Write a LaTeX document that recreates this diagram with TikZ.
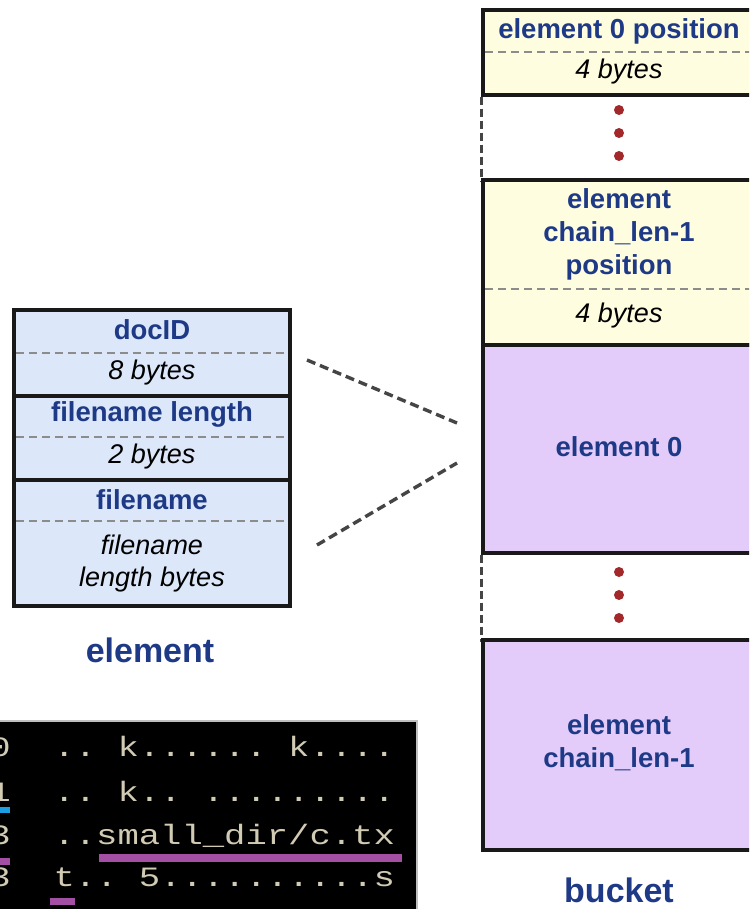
\documentclass[tikz,border=0pt]{standalone}
\usepackage{fontspec}
\setmainfont{Liberation Sans}
\newfontfamily\termfont{Liberation Mono}
\definecolor{elemblue}{HTML}{DCE8FA}
\definecolor{posyellow}{HTML}{FFFDE0}
\definecolor{elpurple}{HTML}{E3CCFA}
\definecolor{txtblue}{HTML}{1E3A86}
\definecolor{dotred}{HTML}{A3282A}
\definecolor{sepgray}{HTML}{8C8C8C}
\definecolor{linkgray}{HTML}{454545}
\definecolor{termtxt}{HTML}{D2CBB4}
\definecolor{barblue}{HTML}{1AA0E0}
\definecolor{barpurple}{HTML}{A24FA4}
\tikzset{
  sect/.style={draw=black!90, line width=3.4pt, inner sep=0pt},
  sepline/.style={draw=sepgray, line width=1.5pt, dash pattern=on 8pt off 5pt},
  title/.style={text=txtblue, font=\fontsize{27.5}{33}\selectfont\bfseries, align=center, inner sep=0pt},
  size/.style={text=black, font=\fontsize{27}{32}\selectfont\itshape, align=center, inner sep=0pt},
  biglabel/.style={text=txtblue, font=\fontsize{34}{38}\selectfont\bfseries, inner sep=0pt},
  gap/.style={draw=linkgray, line width=3.4pt, dash pattern=on 8pt off 4pt},
  link/.style={draw=linkgray, line width=3.4pt, dash pattern=on 9pt off 5pt},
  dot/.style={circle, fill=dotred, minimum size=10pt, inner sep=0pt},
  termrow/.style={anchor=base west, inner sep=0pt, text=termtxt, font=\termfont\fontsize{28}{30}\selectfont}
}
\begin{document}
\begin{tikzpicture}[x=1pt,y=-1pt]
\clip (0,0) rectangle (749,909);
\fill[white] (0,0) rectangle (749,909);

% ---------- element record ----------
\node[sect, fill=elemblue, minimum width=276pt, minimum height=86pt] (docid) at (152,353) {};
\node[sect, fill=elemblue, minimum width=276pt, minimum height=84pt] (flen) at (152,438) {};
\node[sect, fill=elemblue, minimum width=276pt, minimum height=126pt] (fname) at (152,543) {};
\draw[sepline] (16,353) -- (288,353);
\draw[sepline] (16,437) -- (288,437);
\draw[sepline] (16,521) -- (288,521);
\node[title] (tdocid) at (152,330) {docID};
\node[size] (sdocid) at (152,373) {8 bytes};
\node[title] (tflen) at (152,414) {filename length};
\node[size] (sflen) at (152,457) {2 bytes};
\node[title] (tfname) at (152,500) {filename};
\node[size] (sfname) at (152,564) {filename\\length bytes};
\node[biglabel] (elemlabel) at (150,650) {element};

% ---------- bucket ----------
\node[sect, fill=posyellow, minimum width=274pt, minimum height=85pt] (pos0) at (620,52.5) {};
\draw[sepline] (485,52) -- (760,52);
\node[title] (tpos0) at (619,31) {element 0 position};
\node[size] (spos0) at (619,72) {4 bytes};

\draw[gap] (pos0.south west) -- ++(0,85) coordinate (gapA);
\node[dot] (d1) at (619,110) {};
\node[dot] (d2) at (619,133) {};
\node[dot] (d3) at (619,156) {};

\node[sect, fill=posyellow, minimum width=274pt, minimum height=165pt] (posN) at (620,262.5) {};
\draw[sepline] (485,289) -- (760,289);
\node[title] (tposN) at (619,234) {element\\chain\_len-1\\position};
\node[size] (sposN) at (619,316) {4 bytes};

\node[sect, fill=elpurple, minimum width=274pt, minimum height=208pt] (el0) at (620,449) {};
\node[title] (tel0) at (619,447) {element 0};

\draw[gap] (el0.south west) -- ++(0,87) coordinate (gapB);
\node[dot] (d4) at (619,572) {};
\node[dot] (d5) at (619,595) {};
\node[dot] (d6) at (619,618) {};

\node[sect, fill=elpurple, minimum width=274pt, minimum height=210pt] (elN) at (620,745) {};
\node[title] (telN) at (619,743) {element\\chain\_len-1};
\node[biglabel] (bucketlabel) at (619,890) {bucket};

% ---------- zoom connectors ----------
\coordinate (linkAs) at (307,360);
\coordinate (linkAe) at (457,423);
\coordinate (linkBs) at (317,545);
\coordinate (linkBe) at (457,463);
\draw[link] (linkAs) -- (linkAe);
\draw[link] (linkBs) -- (linkBe);

% ---------- hex dump excerpt ----------
\fill[black] (-5,721) rectangle (417,915);
\draw[gray!50, line width=1.2pt] (-5,721) -- (417,721) -- (417,915);
\node[termrow] (r1) at (-10.7,756) {\scalebox{1.27}[1]{0~~..~k......~k....}};
\node[termrow] (r2) at (-10.7,801) {\scalebox{1.27}[1]{1~~..~k..~.........}};
\node[termrow] (r3) at (-10.7,844) {\scalebox{1.27}[1]{3~~..small\_dir/c.tx}};
\node[termrow] (r4) at (-10.7,886) {\scalebox{1.27}[1]{3~~t..~5..........s}};
\fill[barblue] (0,807) rectangle (10,813);
\fill[barpurple] (0,858) rectangle (10,865);
\fill[barpurple] (99,854) rectangle (402,862);
\fill[barpurple] (50,898) rectangle (75,905);
\end{tikzpicture}
\end{document}
